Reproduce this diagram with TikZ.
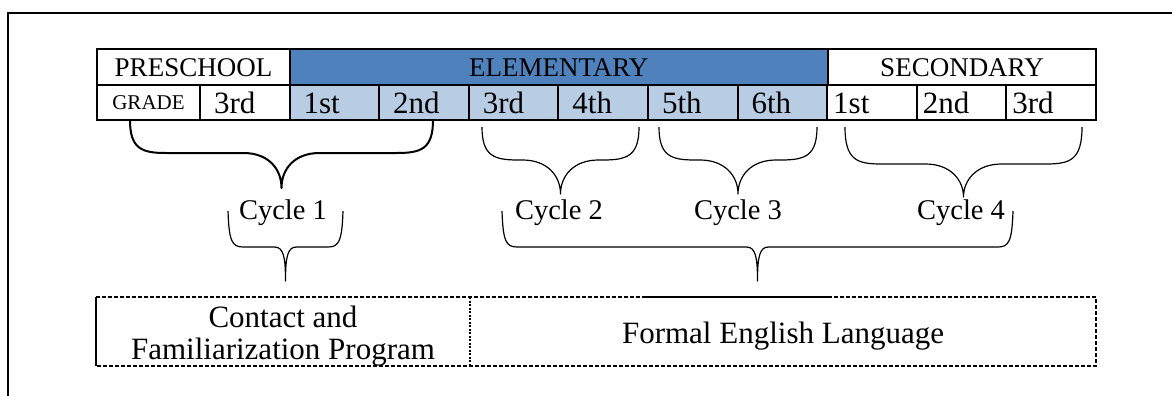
\documentclass[tikz,border=0pt]{standalone}
\usepackage{fontspec}
\setmainfont{Liberation Serif}
\usetikzlibrary{positioning}
\definecolor{elemblue}{HTML}{4F81BD}
\definecolor{gradeblue}{HTML}{B8CCE4}
\tikzset{
  cell/.style={draw, line width=2pt, inner sep=0pt, outer sep=0pt},
  level/.style={cell, minimum height=36pt, font=\fontsize{27}{30}\selectfont,
    text height=18pt, text depth=0pt},
  grade/.style={cell, minimum height=35pt, font=\fontsize{31}{34}\selectfont,
    inner xsep=14pt, text width=61.6pt, align=left, text height=21pt, text depth=0pt},
  secgrade/.style={grade, inner xsep=6pt, text width=77.6pt},
  gradehead/.style={cell, minimum height=35pt, minimum width=103pt,
    font=\fontsize{21}{24}\selectfont, text height=14pt, text depth=0pt},
  dark/.style={fill=elemblue},
  lite/.style={fill=gradeblue},
  cyc/.style={font=\fontsize{28.5}{32}\selectfont, anchor=base, inner sep=0pt},
  prog/.style={inner sep=0pt, outer sep=0pt, minimum height=69pt, align=center,
    font=\fontsize{31}{32}\selectfont},
  brc/.style={line width=1.2pt, line join=round},
  dashline/.style={line width=1.8pt, dash pattern=on 4pt off 2pt},
}
% curly brace under the grades: left, right, top, middle, tip
\newcommand{\gradebrace}[6][]{%
  \draw[brc,#1] (#2,#4) .. controls (#2,{#5-4}) and ({#2+12},#5) .. ({#2+36},#5)
    -- ({(#2+#3)/2-38},#5) .. controls ({(#2+#3)/2-13},#5) and ({(#2+#3)/2},{#5+16}) .. ({(#2+#3)/2},#6)
    .. controls ({(#2+#3)/2},{#5+16}) and ({(#2+#3)/2+13},#5) .. ({(#2+#3)/2+38},#5)
    -- ({#3-36},#5) .. controls ({#3-12},#5) and (#3,{#5-4}) .. (#3,#4);}
% lower bracket with a narrow spike: left, right
\newcommand{\cyclebrace}[2]{%
  \draw[brc] (#1,211) .. controls ({#1+1},241) and ({#1+4},247) .. ({#1+15},247)
    -- ({(#1+#2)/2-11},247) .. controls ({(#1+#2)/2-2},247) and ({(#1+#2)/2},257) .. ({(#1+#2)/2},281)
    .. controls ({(#1+#2)/2},257) and ({(#1+#2)/2+2},247) .. ({(#1+#2)/2+11},247)
    -- ({#2-15},247) .. controls ({#2-4},247) and ({#2-1},241) .. (#2,211);}
\begin{document}
\begin{tikzpicture}[x=1pt, y=-1pt]
\useasboundingbox (0,0) rectangle (1172,396);
% frame
\draw[line width=2pt] (7,13) -- (1172,13);
\draw[line width=2pt] (8,13) -- (8,396);
% row 1: levels
\node[level, minimum width=193pt, anchor=north west] (pre) at (97,49) {PRESCHOOL};
\node[level, dark, minimum width=537.6pt, right=0pt of pre] (ele) {ELEMENTARY};
\node[level, minimum width=268.8pt, right=0pt of ele] (sec) {SECONDARY};
% row 2: grades
\node[gradehead, anchor=north west] (gr) at (pre.south west) {GRADE};
\node[grade, right=0pt of gr] (p3) {3rd};
\node[grade, lite, right=0pt of p3] (e1) {1st};
\node[grade, lite, right=0pt of e1] (e2) {2nd};
\node[grade, lite, right=0pt of e2] (e3) {3rd};
\node[grade, lite, right=0pt of e3] (e4) {4th};
\node[grade, lite, right=0pt of e4] (e5) {5th};
\node[grade, lite, right=0pt of e5] (e6) {6th};
\node[secgrade, right=0pt of e6] (s1) {1st};
\node[secgrade, right=0pt of s1] (s2) {2nd};
\node[secgrade, right=0pt of s2] (s3) {3rd};
% braces under the grades
\gradebrace[line width=2pt]{130}{433}{120}{153}{188}
\gradebrace{482}{639}{127}{160}{194}
\gradebrace{659}{817}{127}{160}{194}
\gradebrace{845}{1082}{127}{164}{197}
% cycles
\node[cyc] (c1) at (283,219) {Cycle 1};
\node[cyc] (c2) at (559,219) {Cycle 2};
\node[cyc] (c3) at (738,219) {Cycle 3};
\node[cyc] (c4) at (961,219) {Cycle 4};
\cyclebrace{228}{343}
\cyclebrace{502}{1013}
% programs
\node[prog, minimum width=374pt, anchor=north west, yshift=-4.5pt] (fam) at (96,297) {Contact and\\Familiarization Program};
\node[prog, minimum width=626pt, right=0pt of fam] (fel) {Formal English Language};
\draw[dashline] (96,297) -- (1096,297) -- (1096,366) -- (96,366);
\draw[line width=1.8pt] (96,297) -- (96,366);
\draw[line width=2.2pt] (646,297) -- (829,297);
\draw[line width=2.2pt, dash pattern=on 2pt off 1.5pt] (470,297) -- (470,366);
\end{tikzpicture}
\end{document}
